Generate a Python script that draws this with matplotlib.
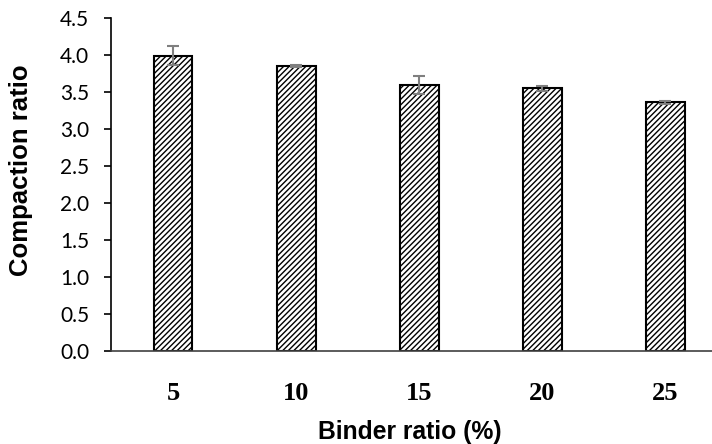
import matplotlib
matplotlib.use("Agg")
import matplotlib.pyplot as plt
import numpy as np

categories = ["5", "10", "15", "20", "25"]
values = [3.99, 3.85, 3.59, 3.55, 3.36]
errors = [0.13, 0.01, 0.12, 0.03, 0.02]
yticks = [0.0, 0.5, 1.0, 1.5, 2.0, 2.5, 3.0, 3.5, 4.0, 4.5]

plt.rcParams['hatch.linewidth'] = 1.0
fig = plt.figure(figsize=(7.12, 4.44), dpi=100)
ax = fig.add_axes([0.1566, 0.2095, 0.8638, 0.75])

x = np.arange(len(categories))
ax.bar(x, values, width=0.317, color='white', edgecolor='black', linewidth=1.5,
       hatch='//////', zorder=2)
ax.errorbar(x, values, yerr=errors, fmt='none', ecolor='#7f7f7f', elinewidth=1.5,
            capsize=4.3, capthick=1.5, zorder=3)

ax.set_xlim(-0.5, len(categories) - 0.5)
ax.set_ylim(0, 4.5)
ax.set_yticks(yticks)
ax.set_yticklabels([f"{t:.1f}" for t in yticks], family='Lato', fontsize=15)
ax.set_xticks(x)
ax.set_xticklabels(categories, family='Liberation Serif', fontweight='bold', fontsize=19)

for s in ['top', 'right']:
    ax.spines[s].set_visible(False)
ax.spines['left'].set_linewidth(1.2)
ax.spines['bottom'].set_linewidth(1.2)
ax.spines['bottom'].set_color('#404040')

ax.tick_params(axis='y', direction='out', length=5, width=1.2, pad=11)
ax.tick_params(axis='x', length=0, pad=22)

ax.set_ylabel("Compaction ratio", family='Liberation Sans', fontweight='bold', fontsize=18.5)
ax.set_xlabel("Binder ratio (%)", family='Liberation Sans', fontweight='bold', fontsize=17.8)
ax.yaxis.set_label_coords(-0.1276, 0.5435)
ax.xaxis.set_label_coords(0.4846, -0.207)

fig.savefig("out.png", dpi=100)
